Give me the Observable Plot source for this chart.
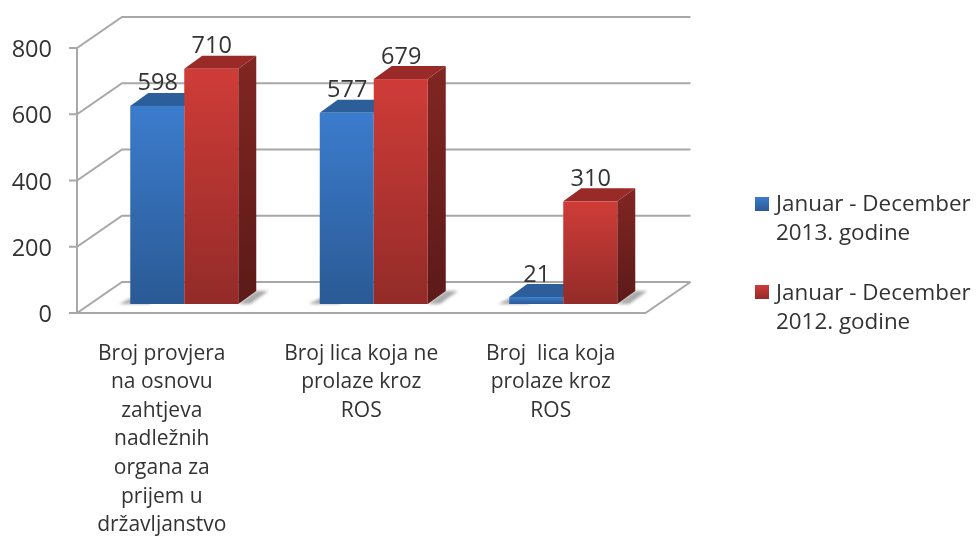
<!DOCTYPE html>
<html><head><meta charset="utf-8">
<script src="https://cdn.jsdelivr.net/npm/d3@7"></script>
<script src="https://cdn.jsdelivr.net/npm/@observablehq/plot@0.6"></script>
<style>
html,body{margin:0;padding:0;background:#fff;width:977px;height:538px;overflow:hidden}
#c{position:relative;width:977px;height:538px;filter:blur(.4px)}
svg{display:block;overflow:visible}
.lg{position:absolute;left:776px;font:22.4px/29px "Open Sans",sans-serif;color:#333;white-space:nowrap}
.sw{position:absolute;left:755px;width:14px;height:14px}
</style></head><body><div id="c"></div>
<script>
const categories = ["Broj provjera\nna osnovu\nzahtjeva\nnadležnih\norgana za\nprijem u\ndržavljanstvo","Broj lica koja ne\nprolaze kroz\nROS","Broj  lica koja\nprolaze kroz\nROS"];
const series2013 = [598,577,21];
const series2012 = [710,679,310];
const yTicks = [0,200,400,600,800];
const legendLabels = ["Januar - December\n2013. godine","Januar - December\n2012. godine"];

const FONT = '"Open Sans",sans-serif', INK = "#333";
const BW = 54/189.5;                 // bar width in category units
const depth = {x:18,y:13};           // bar depth in px
const back = {x:32.5,y:22}, front = {x:12.5,y:9}; // plot box relative to bar plane
const rows = [
  ...series2013.map((v,i)=>({i,v,s:0})),
  ...series2012.map((v,i)=>({i,v,s:1}))
].sort((a,b)=>a.i-b.i||a.s-b.s);
const NS = "http://www.w3.org/2000/svg";
const el = (n,a)=>{const e=document.createElementNS(NS,n);for(const k in a)e.setAttribute(k,a[k]);return e;};
const poly = (pts,fill,extra={})=>el("polygon",{points:pts.map(p=>p.join(",")).join(" "),fill,...extra});
const x1of = d=>d.i+.5-BW+BW*d.s, x2of = d=>d.i+.5+BW*d.s;

function walls(I,s){
  const g=el("g",{fill:"none",stroke:"#a8a8a8","stroke-width":2});
  const X0=s.x(0),X1=s.x(3);
  for(const i of I){
    const Y=s.y(yTicks[i]);
    g.append(el("polyline",{points:[[X0-front.x-8,Y+front.y],[X0-front.x,Y+front.y],[X0+back.x,Y-back.y],[X1+back.x,Y-back.y]].map(p=>p.join(",")).join(" ")}));
  }
  const Y0=s.y(0),Yt=s.y(800);
  g.append(el("line",{x1:X0-front.x,x2:X0-front.x,y1:Y0+front.y,y2:Yt+front.y}));
  g.append(el("polyline",{points:[[X0-front.x,Y0+front.y],[X1-front.x,Y0+front.y],[X1+back.x,Y0-back.y]].map(p=>p.join(",")).join(" ")}));
  return g;
}
function shadows(I,s){
  const g=el("g",{});
  const defs=el("defs",{});
  defs.innerHTML=`<filter id="sb" x="-20%" y="-50%" width="140%" height="200%"><feGaussianBlur stdDeviation="1.6"/></filter>
  <linearGradient id="blue" x1="0" x2="0" y1="0" y2="1"><stop offset="0" stop-color="#3c7ccd"/><stop offset="1" stop-color="#2a5a95"/></linearGradient>
  <linearGradient id="red" x1="0" x2="0" y1="0" y2="1"><stop offset="0" stop-color="#cf3c38"/><stop offset="1" stop-color="#932b28"/></linearGradient>
  <linearGradient id="redside" x1="0" x2="0" y1="0" y2="1"><stop offset="0" stop-color="#812623"/><stop offset="1" stop-color="#5c1a18"/></linearGradient>`;
  g.append(defs);
  for(let c=0;c<3;c++){
    const a=s.x(c+.5-BW),b=s.x(c+.5+BW),y=s.y(0);
    g.append(poly([[a-11,y],[a+3,y-7],[a+20,y-7],[a+20,y],[b,y],[b+18,y-13],[b+30,y-13],[b+12,y]],"#9a9a9a",{filter:"url(#sb)",opacity:.85}));
  }
  return g;
}
function prism(I,s,v){
  const g=el("g",{});
  for(const i of I){
    const x1=v.x1[i],x2=v.x2[i],top=v.y2[i],bot=v.y1[i],d=rows[i];
    if(d.s===1) g.append(poly([[x2,top],[x2+depth.x,top-depth.y],[x2+depth.x,bot-depth.y],[x2,bot]],"url(#redside)"));
    g.append(poly([[x1,top],[x2,top],[x2+depth.x,top-depth.y],[x1+depth.x,top-depth.y]],d.s?"#992a27":"#2c5e9a"));
    g.append(el("rect",{x:x1,y:top,width:x2-x1,height:bot-top,fill:d.s?"url(#red)":"url(#blue)"}));
  }
  return g;
}

const chart = Plot.plot({
  width:977,height:538,
  marginLeft:89.5,marginRight:319,marginTop:39,marginBottom:234,
  x:{domain:[0,3],axis:null},
  y:{domain:[0,800],axis:null},
  style:{background:"transparent",fontFamily:FONT},
  marks:[
    Plot.ruleY([0],{render:shadows}),
    Plot.ruleY(yTicks,{y:d=>d,render:walls}),
    Plot.rectY(rows,{x1:x1of,x2:x2of,y:"v",inset:0,render:prism}),
    Plot.text(rows,{x:d=>(x1of(d)+x2of(d))/2,y:"v",text:d=>String(d.v),dy:-23.5,fontSize:23.5,fill:INK,stroke:"none"}),
    Plot.axisY({ticks:yTicks,anchor:"left",tickSize:0,tickPadding:38,dy:10,fontSize:23.5,color:INK,label:null,tickFormat:d=>String(d)}),
    ...categories.map((c,i)=>Plot.text([c],{x:()=>i+.5,y:()=>0,text:d=>d,dx:[-23,-13,-13][i],dy:35,lineAnchor:"top",lineHeight:1.36,fontSize:21,fill:INK}))
  ]
});
const host=document.getElementById("c");
host.append(chart);
[["linear-gradient(#3c7ccd,#2a5a95)",197,188],["linear-gradient(#cf3c38,#932b28)",285,277]].forEach(([bg,t,lt],i)=>{
  const s=document.createElement("div");s.className="sw";s.style.background=bg;s.style.top=t+"px";host.append(s);
  const l=document.createElement("div");l.className="lg";l.style.top=lt+"px";l.innerHTML=legendLabels[i].replace("\n","<br>");host.append(l);
});
</script></body></html>
